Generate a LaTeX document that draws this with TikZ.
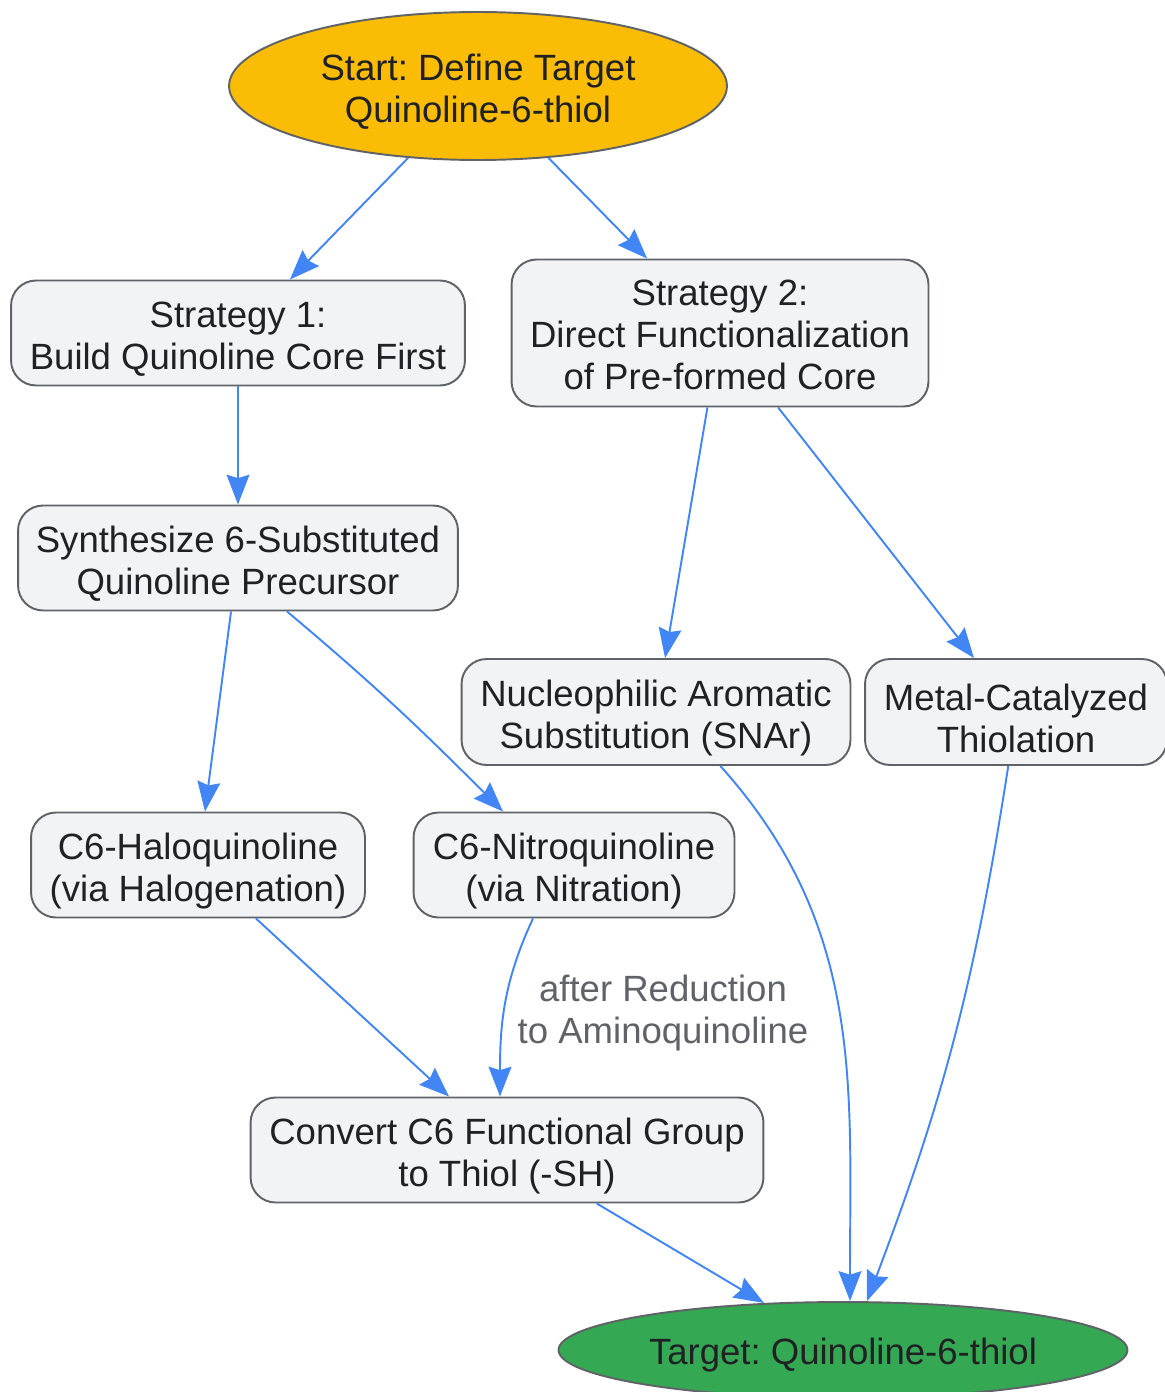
\documentclass[tikz,border=0pt]{standalone}
\usepackage{fontspec}
\setmainfont{Liberation Sans}
\usepackage{xcolor}
\usetikzlibrary{shapes.geometric,arrows.meta}

\definecolor{startyellow}{HTML}{FBBC05}
\definecolor{targetgreen}{HTML}{34A853}
\definecolor{boxfill}{HTML}{F1F3F4}
\definecolor{boxline}{HTML}{5F6368}
\definecolor{inktext}{HTML}{202124}
\definecolor{flowblue}{HTML}{4285F4}

% first-line strut, pushes the text a bit lower in its box
\newcommand{\topgap}[1][22pt]{\rule{0pt}{#1}}

\begin{document}
\frenchspacing
\begin{tikzpicture}[
        x=0.02cm, y=-0.02cm,
        font=\fontsize{20.8pt}{23.8pt}\selectfont,
        goal/.style={ellipse, draw=boxline, line width=1.1pt, text=inktext, align=center, inner sep=0pt},
        task/.style={rectangle, draw=boxline, line width=1.1pt, fill=boxfill, text=inktext, rounded corners=0.5cm, align=center, inner sep=0pt, minimum height=2.1cm},
        flow/.style={draw=flowblue, line width=1.1pt, -{Stealth[length=17pt,width=13pt,inset=2pt]}},
        edge_label/.style={text=boxline, align=center}
    ]
        \useasboundingbox (0,0) rectangle (1164,1392);

        % Start and the two strategies
        \node[goal, fill=startyellow, minimum width=9.96cm, minimum height=2.96cm] (start_goal) at (478,86) {\topgap Start: Define Target\\Quinoline-6-thiol};
        \node[task, minimum width=9.08cm] (strat1) at (238,333) {\topgap Strategy 1:\\Build Quinoline Core First};
        \node[task, minimum width=8.34cm, minimum height=2.94cm] (strat2) at (720,333) {\topgap[17pt]Strategy 2:\\Direct Functionalization\\of Pre-formed Core};
        \draw[flow] (start_goal) -- (strat1);
        \draw[flow] (start_goal) -- (strat2);

        % Strategy 1: precursor, then halo or nitro
        \node[task, minimum width=8.80cm] (strat1_pre) at (238,558) {\topgap Synthesize 6-Substituted\\Quinoline Precursor};
        \node[task, minimum width=6.68cm] (strat1_halo) at (198,865) {\topgap C6-Haloquinoline\\(via Halogenation)};
        \node[task, minimum width=6.42cm] (strat1_nitro) at (574,865) {\topgap C6-Nitroquinoline\\(via Nitration)};
        \node[task, minimum width=10.26cm] (strat1_conv) at (507,1150) {\topgap Convert C6 Functional Group\\to Thiol (-SH)};
        \draw[flow] (strat1) -- (strat1_pre);
        \draw[flow] (strat1_pre) -- (strat1_halo);
        \draw[flow] ([xshift=0.98cm]strat1_pre.south) to[out=-40,in=135] ([xshift=-1.42cm]strat1_nitro.north);
        \draw[flow] (strat1_halo) -- (strat1_conv);
        \draw[flow] ([xshift=-0.82cm]strat1_nitro.south) to[out=-115,in=90] ([xshift=-0.14cm]strat1_conv.north);
        \node[edge_label] (reduce_label) at (663,1013) {after Reduction\\to Aminoquinoline};

        % Strategy 2: SNAr or metal catalysis
        \node[task, minimum width=7.78cm, minimum height=2.12cm] (strat2_snar) at (656,712) {\topgap Nucleophilic Aromatic\\Substitution (SNAr)};
        \node[task, minimum width=6.04cm, minimum height=2.12cm] (strat2_metal) at (1016,712) {\topgap Metal-Catalyzed\\Thiolation};
        \draw[flow] (strat2) -- (strat2_snar);
        \draw[flow] (strat2) -- (strat2_metal);

        % Target
        \node[goal, fill=targetgreen, minimum width=11.38cm, minimum height=1.92cm] (target_goal) at (843,1350) {\topgap[21pt]Target: Quinoline-6-thiol};
        \draw[flow] (strat1_conv) -- (target_goal);
        \draw[flow] (strat2_snar.-40) to[out=-48,in=90] ([xshift=0.14cm]target_goal.north);
        \draw[flow] (strat2_metal) to[bend left=6] ([xshift=0.48cm]target_goal.north);

    \end{tikzpicture}
\end{document}
